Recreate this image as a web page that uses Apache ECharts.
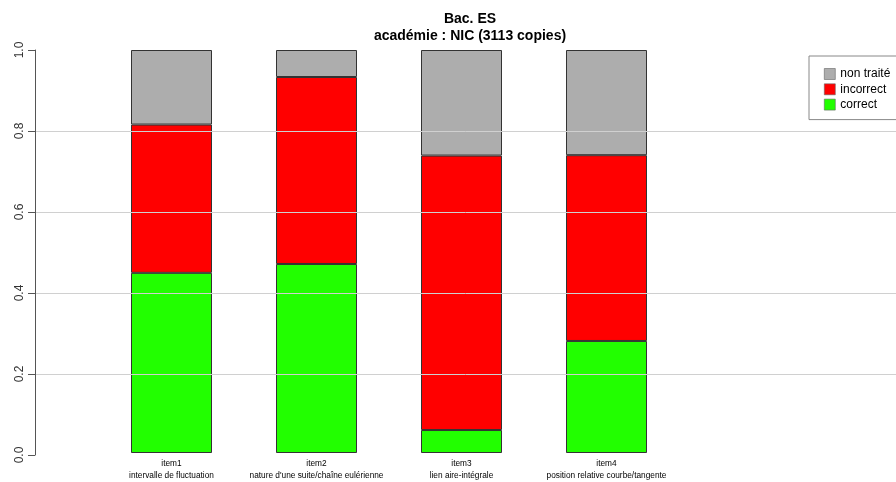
<!DOCTYPE html>
<html>
<head>
<meta charset="utf-8">
<script src="https://cdn.jsdelivr.net/npm/echarts@6/dist/echarts.min.js"></script>
<style>html,body{margin:0;padding:0;background:#fff}#c{width:896px;height:482px}</style>
</head>
<body>
<div id="c"></div>
<script>
var categories = ['item1', 'item2', 'item3', 'item4'];
var subtitles = ['intervalle de fluctuation', "nature d'une suite/chaîne eulérienne", 'lien aire-intégrale', 'position relative courbe/tangente'];
var correct = [0.447, 0.469, 0.057, 0.278];
var incorrect = [0.368, 0.464, 0.681, 0.461];
var nonTraite = [0.185, 0.067, 0.262, 0.261];
var yTicks = [0, 0.2, 0.4, 0.6, 0.8, 1.0];

var FONT = 'Liberation Sans, Arial, sans-serif';
var chart = echarts.init(document.getElementById('c'), null, {renderer: 'canvas'});
var border = {borderColor: '#333', borderWidth: 1};
chart.setOption({
  animation: false,
  backgroundColor: '#fff',
  title: {
    text: 'Bac. ES\nacadémie : NIC (3113 copies)',
    left: 465, top: 6, textAlign: 'center',
    textStyle: {fontFamily: FONT, fontSize: 14, fontWeight: 'bold', color: '#000', lineHeight: 17}
  },
  legend: {
    data: ['non traité', 'incorrect', 'correct'],
    orient: 'vertical',
    left: 809, top: 56,
    padding: [12, 40, 9, 15],
    itemWidth: 11, itemHeight: 11, itemGap: 3.3,
    borderColor: '#888', borderWidth: 1,
    icon: 'rect',
    itemStyle: {borderWidth: 0.6, borderColor: '#666'},
    textStyle: {fontFamily: FONT, fontSize: 12, color: '#000', padding: [0, 0, 0, 0]}
  },
  grid: [
    {left: 35, right: 0, top: 50, height: 405},
    {left: 99, width: 580, top: 50, height: 405}
  ],
  xAxis: [
    {gridIndex: 0, type: 'value', min: 0, max: 1, show: false},
    {gridIndex: 1, type: 'category', data: categories,
     axisLine: {show: false}, axisTick: {show: false},
     axisLabel: {
       margin: 5, interval: 0,
       fontFamily: FONT, fontSize: 8.3, lineHeight: 12, color: '#000',
       formatter: function (v, i) { return v + '\n' + subtitles[i]; }
     }}
  ],
  yAxis: [
    {gridIndex: 0, type: 'value', min: 0, max: 1, interval: 0.2, z: 5,
     axisLine: {show: true, lineStyle: {color: '#555'}},
     axisTick: {show: true, length: 7, lineStyle: {color: '#555'}},
     splitLine: {show: true, showMinLine: false, showMaxLine: false, lineStyle: {color: '#d0d0d0', width: 1}},
     axisLabel: {rotate: 90, margin: 9, fontFamily: FONT, fontSize: 12, color: '#333',
       formatter: function (v) { return v.toFixed(1); }}},
    {gridIndex: 1, type: 'value', min: 0, max: 1, show: false}
  ],
  series: [
    {name: 'correct', type: 'bar', stack: 's', xAxisIndex: 1, yAxisIndex: 1, barWidth: 81,
     itemStyle: Object.assign({color: '#22ff00'}, border), data: correct},
    {name: 'incorrect', type: 'bar', stack: 's', xAxisIndex: 1, yAxisIndex: 1, barWidth: 81,
     itemStyle: Object.assign({color: '#ff0000'}, border), data: incorrect},
    {name: 'non traité', type: 'bar', stack: 's', xAxisIndex: 1, yAxisIndex: 1, barWidth: 81,
     itemStyle: Object.assign({color: '#adadad'}, border), data: nonTraite}
  ]
});
</script>
</body>
</html>
